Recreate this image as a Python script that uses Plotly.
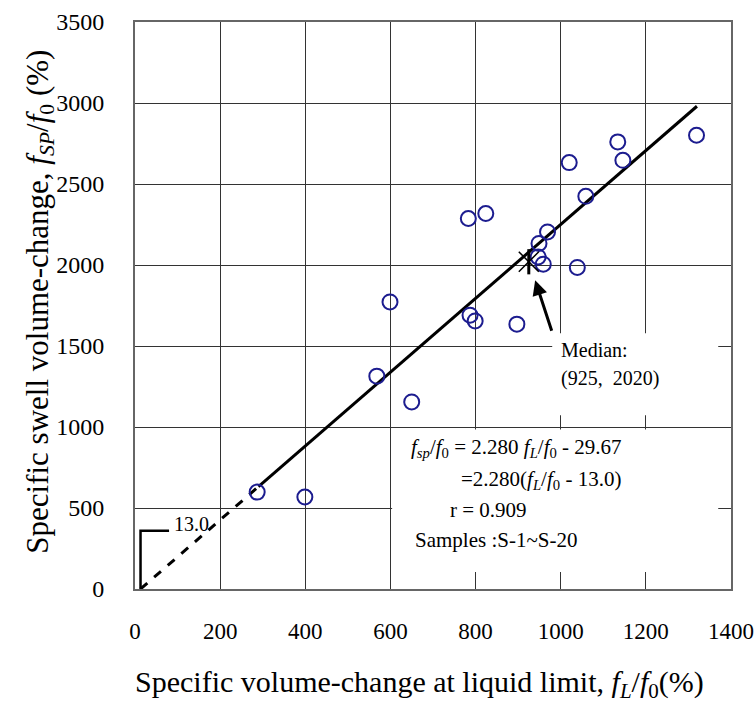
import plotly.graph_objects as go

# ---- data ----
fL = [287, 399, 568, 599, 650, 783, 787, 799, 824, 897,
      947, 949, 959, 969, 1020, 1039, 1059, 1134, 1146, 1319]
fsp = [598, 568, 1314, 1772, 1155, 2287, 1690, 1655, 2318, 1635,
       2050, 2133, 2005, 2204, 2632, 1985, 2424, 2760, 2646, 2801]
median_x, median_y = 925, 2020
slope, intercept = 2.280, -29.67
x_intercept = 13.0
x_solid = [290, 1320]
x_dash = [x_intercept, 290]
x_ticks = [0, 200, 400, 600, 800, 1000, 1200, 1400]
y_ticks = [0, 500, 1000, 1500, 2000, 2500, 3000, 3500]

FONT = "Liberation Serif"

fig = go.Figure()

# dashed extension
fig.add_trace(go.Scatter(x=x_dash, y=[slope * v + intercept for v in x_dash], mode="lines",
                         line=dict(color="black", width=3, dash="dash"), showlegend=False))
# solid regression line
fig.add_trace(go.Scatter(x=x_solid, y=[slope * v + intercept for v in x_solid], mode="lines",
                         line=dict(color="black", width=3), showlegend=False))
# data points
fig.add_trace(go.Scatter(x=fL, y=fsp, mode="markers",
                         marker=dict(symbol="circle-open", size=15, color="#1c1c8f",
                                     line=dict(width=2, color="#1c1c8f")),
                         showlegend=False))
# median marker
fig.add_trace(go.Scatter(x=[median_x], y=[median_y], mode="markers",
                         marker=dict(symbol="x-thin-open", size=20, color="black",
                                     line=dict(width=1.5, color="black")),
                         showlegend=False))
fig.add_trace(go.Scatter(x=[median_x], y=[median_y], mode="markers",
                         marker=dict(symbol="line-ns-open", size=18, color="black",
                                     line=dict(width=3, color="black")),
                         showlegend=False))
# 13.0 bracket
fig.add_trace(go.Scatter(x=[x_intercept, x_intercept, 80], y=[0, 360, 360], mode="lines",
                         line=dict(color="black", width=2.5), showlegend=False))

# white boxes hiding grid behind text
fig.add_shape(type="rect", x0=980, x1=1370, y0=1073, y1=1579, layer="between",
              fillcolor="white", line=dict(width=0))
fig.add_shape(type="rect", x0=604, x1=1370, y0=105, y1=985, layer="between",
              fillcolor="white", line=dict(width=0))

ann = []
ann.append(dict(x=133, y=400, text="13.0", showarrow=False, font=dict(size=20)))
ann.append(dict(x=996, y=1474, text="Median:", showarrow=False, xanchor="left",
                font=dict(size=20)))
ann.append(dict(x=996, y=1302, text="(925,  2020)", showarrow=False, xanchor="left",
                font=dict(size=20)))
ann.append(dict(x=940, y=1906, ax=17, ay=52, text="", showarrow=True, arrowhead=2,
                arrowsize=1, arrowwidth=3, arrowcolor="black"))
ann.append(dict(x=643, y=870,
                text="<i>f</i><sub><i>sp</i></sub>/<i>f</i><sub>0</sub> = 2.280 <i>f</i><sub><i>L</i></sub>/<i>f</i><sub>0</sub> - 29.67",
                showarrow=False, xanchor="left", font=dict(size=21)))
ann.append(dict(x=761, y=675,
                text="=2.280(<i>f</i><sub><i>L</i></sub>/<i>f</i><sub>0</sub> - 13.0)",
                showarrow=False, xanchor="left", font=dict(size=21)))
ann.append(dict(x=736, y=487, text="r = 0.909", showarrow=False, xanchor="left",
                font=dict(size=21)))
ann.append(dict(x=653, y=302, text="Samples :S-1~S-20", showarrow=False, xanchor="left",
                font=dict(size=21)))
# axis titles
ann.append(dict(xref="paper", yref="paper", x=0.478, y=-0.168, xanchor="center", yanchor="middle",
                text="Specific volume-change at liquid limit, <i>f</i><sub><i>L</i></sub>/<i>f</i><sub>0</sub>(%)",
                showarrow=False, font=dict(size=30)))
ann.append(dict(xref="paper", yref="paper", x=-0.160, y=0.506, textangle=-90,
                xanchor="center", yanchor="middle",
                text="Specific swell volume-change, <i>f</i><sub><i>SP</i></sub>/<i>f</i><sub>0</sub> (%)",
                showarrow=False, font=dict(size=31)))

fig.update_layout(
    width=754, height=706,
    margin=dict(l=135, r=23, t=22, b=117, autoexpand=False),
    plot_bgcolor="white", paper_bgcolor="white",
    font=dict(family=FONT, color="black"),
    annotations=ann,
    showlegend=False,
)
fig.update_xaxes(range=[0, 1400], tickvals=x_ticks, showgrid=True, gridcolor="#333", gridwidth=1,
                 showline=True, mirror=True, linecolor="#666", linewidth=2, zeroline=False,
                 tickfont=dict(size=23), ticks="", ticklabelstandoff=20, automargin=False,
                 ticklabeloverflow="allow")
fig.update_yaxes(range=[0, 3500], tickvals=y_ticks, showgrid=True, gridcolor="#333", gridwidth=1,
                 showline=True, mirror=True, linecolor="#666", linewidth=2, zeroline=False,
                 tickfont=dict(size=24), ticks="", ticklabelstandoff=24, automargin=False,
                 ticklabeloverflow="allow")

fig.write_html("out.html", config={"displayModeBar": False},
               post_script="document.body.style.margin='0';document.body.style.overflow='hidden';")
